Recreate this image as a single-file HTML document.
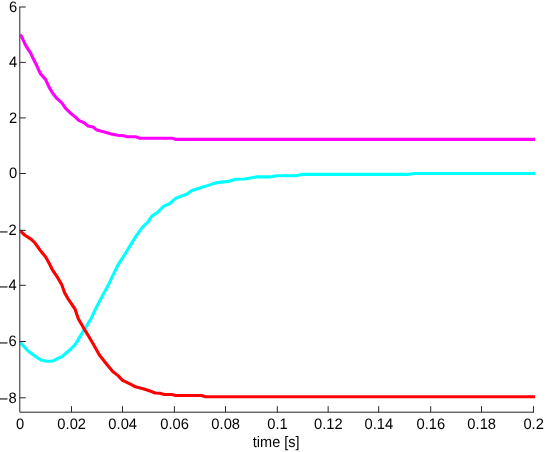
<!DOCTYPE html>
<html><head><meta charset="utf-8"><title>plot</title>
<style>
html,body{margin:0;padding:0;background:#fff;}
body{width:545px;height:452px;overflow:hidden;}
svg{display:block;will-change:transform;}
svg text{font-family:"Liberation Sans",sans-serif;font-size:15.2px;fill:#000;text-rendering:geometricPrecision;}
</style></head><body>
<svg width="545" height="452" viewBox="0 0 545 452">
<rect width="545" height="452" fill="#fff"/>
<defs><clipPath id="cp"><rect x="20.2" y="0" width="514.8" height="412"/></clipPath></defs>
<path d="M19.9,34.6 L21.3,36.0 L23.1,39.8 L25.9,45.8 L30.5,52.8 L33.3,58.8 L36.6,65.3 L40.5,73.8 L45.5,79.4 L48.8,86.6 L52.7,93.2 L57.1,98.7 L62.1,103.2 L65.4,108.1 L70.0,112.7 L74.9,116.6 L78.8,120.4 L83.7,122.6 L88.1,125.9 L93.1,127.0 L96.9,130.1 L103.5,131.8 L111.2,134.0 L117.8,135.3 L122.7,135.6 L127.2,136.8 L135.5,136.8 L140.0,138.3 L172.2,138.3 L176.0,139.4 L535.0,139.4" fill="none" stroke="#ff00ff" stroke-width="3.1" stroke-linejoin="round" stroke-linecap="butt" clip-path="url(#cp)"/>
<path d="M19.9,342.4 L24.4,346.9 L28.1,351.1 L31.8,353.8 L36.3,357.0 L40.9,360.0 L45.5,361.1 L50.1,361.3 L53.8,360.7 L57.4,358.7 L62.0,356.6 L65.7,353.3 L70.0,349.8 L75.5,344.2 L79.4,337.6 L83.8,330.4 L87.7,324.3 L91.5,317.7 L94.8,310.5 L97.8,304.6 L102.9,295.0 L108.2,285.3 L113.1,274.9 L117.9,265.2 L123.7,256.1 L125.5,253.3 L130.9,244.4 L136.2,235.9 L142.8,226.8 L148.0,221.9 L151.6,216.4 L157.7,212.2 L163.8,206.1 L169.8,203.5 L175.6,198.4 L187.0,194.0 L192.0,190.5 L206.1,186.1 L215.6,182.9 L228.1,181.4 L235.5,179.3 L244.9,179.0 L256.4,176.9 L269.6,176.9 L276.2,175.7 L296.1,175.7 L301.8,174.4 L407.5,174.4 L415.2,173.5 L535.0,173.5" fill="none" stroke="#00ffff" stroke-width="3.1" stroke-linejoin="round" stroke-linecap="butt" clip-path="url(#cp)"/>
<path d="M19.9,230.6 L24.6,235.0 L31.3,239.4 L35.0,243.0 L40.6,250.8 L45.7,257.1 L49.0,263.0 L52.4,269.8 L57.2,276.9 L61.8,284.8 L64.6,292.7 L68.3,299.2 L74.9,308.8 L78.3,318.8 L83.8,328.2 L88.8,336.5 L93.5,344.5 L99.4,355.0 L105.5,362.7 L112.7,371.5 L117.7,375.4 L122.6,380.4 L130.9,384.3 L135.4,386.8 L143.1,388.7 L150.1,391.0 L155.3,393.0 L159.8,393.2 L164.3,394.5 L172.0,394.5 L175.8,395.5 L201.5,395.5 L205.4,396.7 L535.0,396.7" fill="none" stroke="#ff0000" stroke-width="3.1" stroke-linejoin="round" stroke-linecap="butt" clip-path="url(#cp)"/>
<path d="M19.8,6.5 V412.2 H534.0" fill="none" stroke="#262626" stroke-width="1.0" stroke-linejoin="miter"/>
<text transform="translate(20.00,428.7) scale(0.97,1)" text-anchor="middle">0</text>
<path d="M71.50,412.2 v-6" stroke="#262626" stroke-width="1.0"/>
<text transform="translate(71.70,428.7) scale(0.97,1)" text-anchor="middle">0.02</text>
<path d="M122.50,412.2 v-6" stroke="#262626" stroke-width="1.0"/>
<text transform="translate(122.70,428.7) scale(0.97,1)" text-anchor="middle">0.04</text>
<path d="M174.40,412.2 v-6" stroke="#262626" stroke-width="1.0"/>
<text transform="translate(174.60,428.7) scale(0.97,1)" text-anchor="middle">0.06</text>
<path d="M225.50,412.2 v-6" stroke="#262626" stroke-width="1.0"/>
<text transform="translate(225.70,428.7) scale(0.97,1)" text-anchor="middle">0.08</text>
<path d="M277.30,412.2 v-6" stroke="#262626" stroke-width="1.0"/>
<text transform="translate(277.50,428.7) scale(0.97,1)" text-anchor="middle">0.1</text>
<path d="M328.15,412.2 v-6" stroke="#262626" stroke-width="1.0"/>
<text transform="translate(328.35,428.7) scale(0.97,1)" text-anchor="middle">0.12</text>
<path d="M378.70,412.2 v-6" stroke="#262626" stroke-width="1.0"/>
<text transform="translate(378.90,428.7) scale(0.97,1)" text-anchor="middle">0.14</text>
<path d="M430.70,412.2 v-6" stroke="#262626" stroke-width="1.0"/>
<text transform="translate(430.90,428.7) scale(0.97,1)" text-anchor="middle">0.16</text>
<path d="M481.50,412.2 v-6" stroke="#262626" stroke-width="1.0"/>
<text transform="translate(481.70,428.7) scale(0.97,1)" text-anchor="middle">0.18</text>
<path d="M533.45,412.2 v-6" stroke="#262626" stroke-width="1.0"/>
<text transform="translate(533.65,428.7) scale(0.97,1)" text-anchor="middle">0.2</text>
<path d="M19.8,7.00 h6" stroke="#262626" stroke-width="1.0"/>
<text transform="translate(17.1,11.80) scale(0.97,1)" text-anchor="end">6</text>
<path d="M19.8,62.40 h6" stroke="#262626" stroke-width="1.0"/>
<text transform="translate(17.1,67.20) scale(0.97,1)" text-anchor="end">4</text>
<path d="M19.8,117.90 h6" stroke="#262626" stroke-width="1.0"/>
<text transform="translate(17.1,122.70) scale(0.97,1)" text-anchor="end">2</text>
<path d="M19.8,173.50 h6" stroke="#262626" stroke-width="1.0"/>
<text transform="translate(17.1,178.30) scale(0.97,1)" text-anchor="end">0</text>
<path d="M19.8,230.35 h6" stroke="#262626" stroke-width="1.0"/>
<text transform="translate(16.75,235.15) scale(0.97,1)" text-anchor="end">2</text>
<text transform="translate(8.2,236.75) scale(1.048,1)" text-anchor="end">−</text>
<path d="M19.8,285.30 h6" stroke="#262626" stroke-width="1.0"/>
<text transform="translate(16.75,290.10) scale(0.97,1)" text-anchor="end">4</text>
<text transform="translate(8.2,291.70) scale(1.048,1)" text-anchor="end">−</text>
<path d="M19.8,341.50 h6" stroke="#262626" stroke-width="1.0"/>
<text transform="translate(16.75,346.30) scale(0.97,1)" text-anchor="end">6</text>
<text transform="translate(8.2,347.90) scale(1.048,1)" text-anchor="end">−</text>
<path d="M19.8,397.80 h6" stroke="#262626" stroke-width="1.0"/>
<text transform="translate(16.75,402.60) scale(0.97,1)" text-anchor="end">8</text>
<text transform="translate(8.2,404.20) scale(1.048,1)" text-anchor="end">−</text>
<text transform="translate(276.2,447.2) scale(0.955,1)" text-anchor="middle">time [s]</text>
</svg>
</body></html>
